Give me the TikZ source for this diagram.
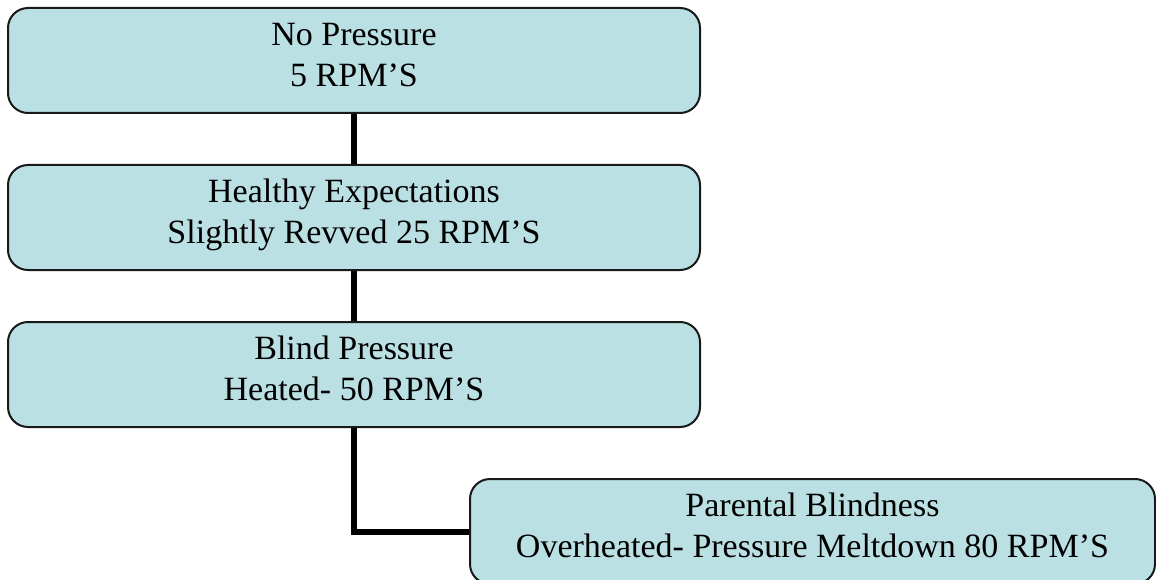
\documentclass[tikz,border=0pt]{standalone}
\usepackage{fontspec}
\setmainfont{Liberation Serif}
\definecolor{boxfill}{HTML}{BAE0E3}
\begin{document}
\begin{tikzpicture}[x=1pt,y=-1pt,
  stagebox/.style={draw=black!90, line width=2pt, fill=boxfill, rounded corners=20pt,
    minimum height=105pt, inner sep=0pt, align=center, text depth=12pt,
    font=\fontsize{34}{41}\selectfont},
  link/.style={line width=6pt, draw=black}]
\useasboundingbox (0,0) rectangle (1156,580);
\node[stagebox, minimum width=692pt] (b1) at (354,60.5) {No Pressure\\5 RPM’S};
\node[stagebox, minimum width=692pt] (b2) at (354,217.5) {Healthy Expectations\\Slightly Revved 25 RPM’S};
\node[stagebox, minimum width=692pt] (b3) at (354,374.5) {Blind Pressure\\Heated- 50 RPM’S};
\node[stagebox, minimum width=685pt] (b4) at (812.5,531.5) {Parental Blindness\\Overheated- Pressure Meltdown 80 RPM’S};
\draw[link] (b1.south) -- (b2.north);
\draw[link] (b2.south) -- (b3.north);
\draw[link] (b3.south) |- (b4.west);
\end{tikzpicture}
\end{document}
